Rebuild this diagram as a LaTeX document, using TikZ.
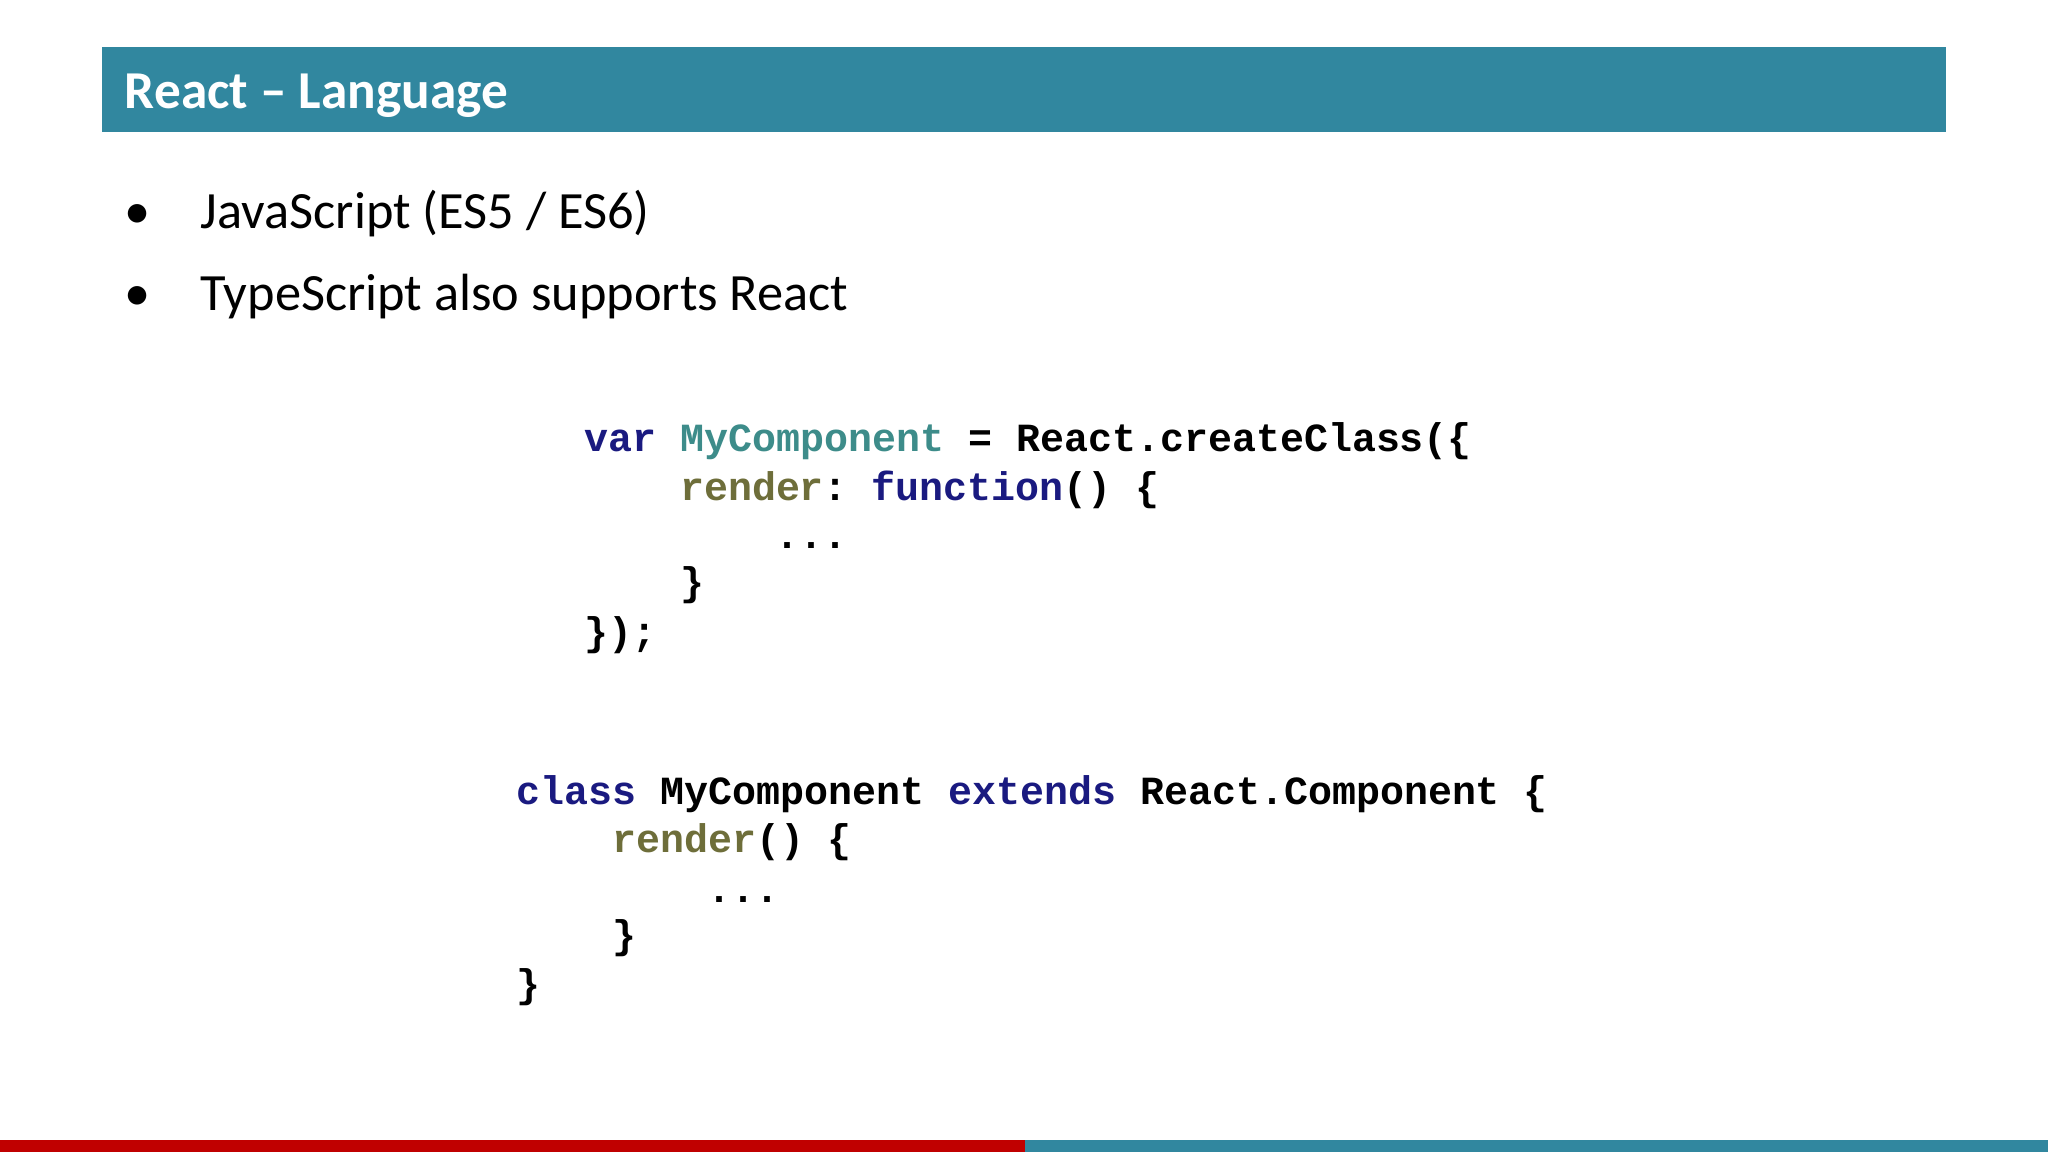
\documentclass[tikz,border=0pt]{standalone}
\usepackage{fontspec}
\setmainfont{Carlito}
\setmonofont{Liberation Mono}
\definecolor{teal1}{HTML}{31879F}
\definecolor{redb}{HTML}{C00000}
\definecolor{kw}{HTML}{1A1A80}
\definecolor{cls}{HTML}{3D8C8A}
\definecolor{fn}{HTML}{6E6E3A}
\tikzset{
 title/.style={anchor=base west,inner sep=0,text=white,font=\fontsize{11.6pt}{13pt}\selectfont\bfseries},
 bul/.style={anchor=base west,inner sep=0,font=\fontsize{11.4pt}{13pt}\selectfont},
 code/.style={anchor=base west,inner sep=0,font=\fontsize{8.7pt}{10pt}\selectfont\ttfamily\bfseries}
}
\begin{document}
\begin{tikzpicture}[x=0.01cm,y=-0.01cm]
\useasboundingbox (0,0) rectangle (1568,882);
\fill[white] (0,0) rectangle (1568,882);
\fill[teal1] (78,36) rectangle (1490,101);
\node[title] (t) at (95,83) {React – Language};
\node[bul] (b1) at (95,175) {•};
\node[bul] (l1) at (153,175) {JavaScript (ES5 / ES6)};
\node[bul] (b2) at (95,238) {•};
\node[bul] (l2) at (153,238) {TypeScript also supports React};
% block 1
\node[code] (c1) at (447,346) {\textcolor{kw}{var} \textcolor{cls}{MyComponent} = React.createClass(\{};
\node[code] (c2) at (520,383) {\textcolor{fn}{render}: \textcolor{kw}{function}() \{};
\node[code] (c3) at (593,420) {...};
\node[code] (c4) at (520,456) {\}};
\node[code] (c5) at (447,494) {\});};
% block 2
\node[code] (d1) at (395,616) {\textcolor{kw}{class} MyComponent \textcolor{kw}{extends} React.Component \{};
\node[code] (d2) at (468,653) {\textcolor{fn}{render}() \{};
\node[code] (d3) at (541,691) {...};
\node[code] (d4) at (468,726) {\}};
\node[code] (d5) at (395,764) {\}};
\fill[redb] (0,873) rectangle (785,882);
\fill[teal1] (785,873) rectangle (1568,882);
\end{tikzpicture}
\end{document}
